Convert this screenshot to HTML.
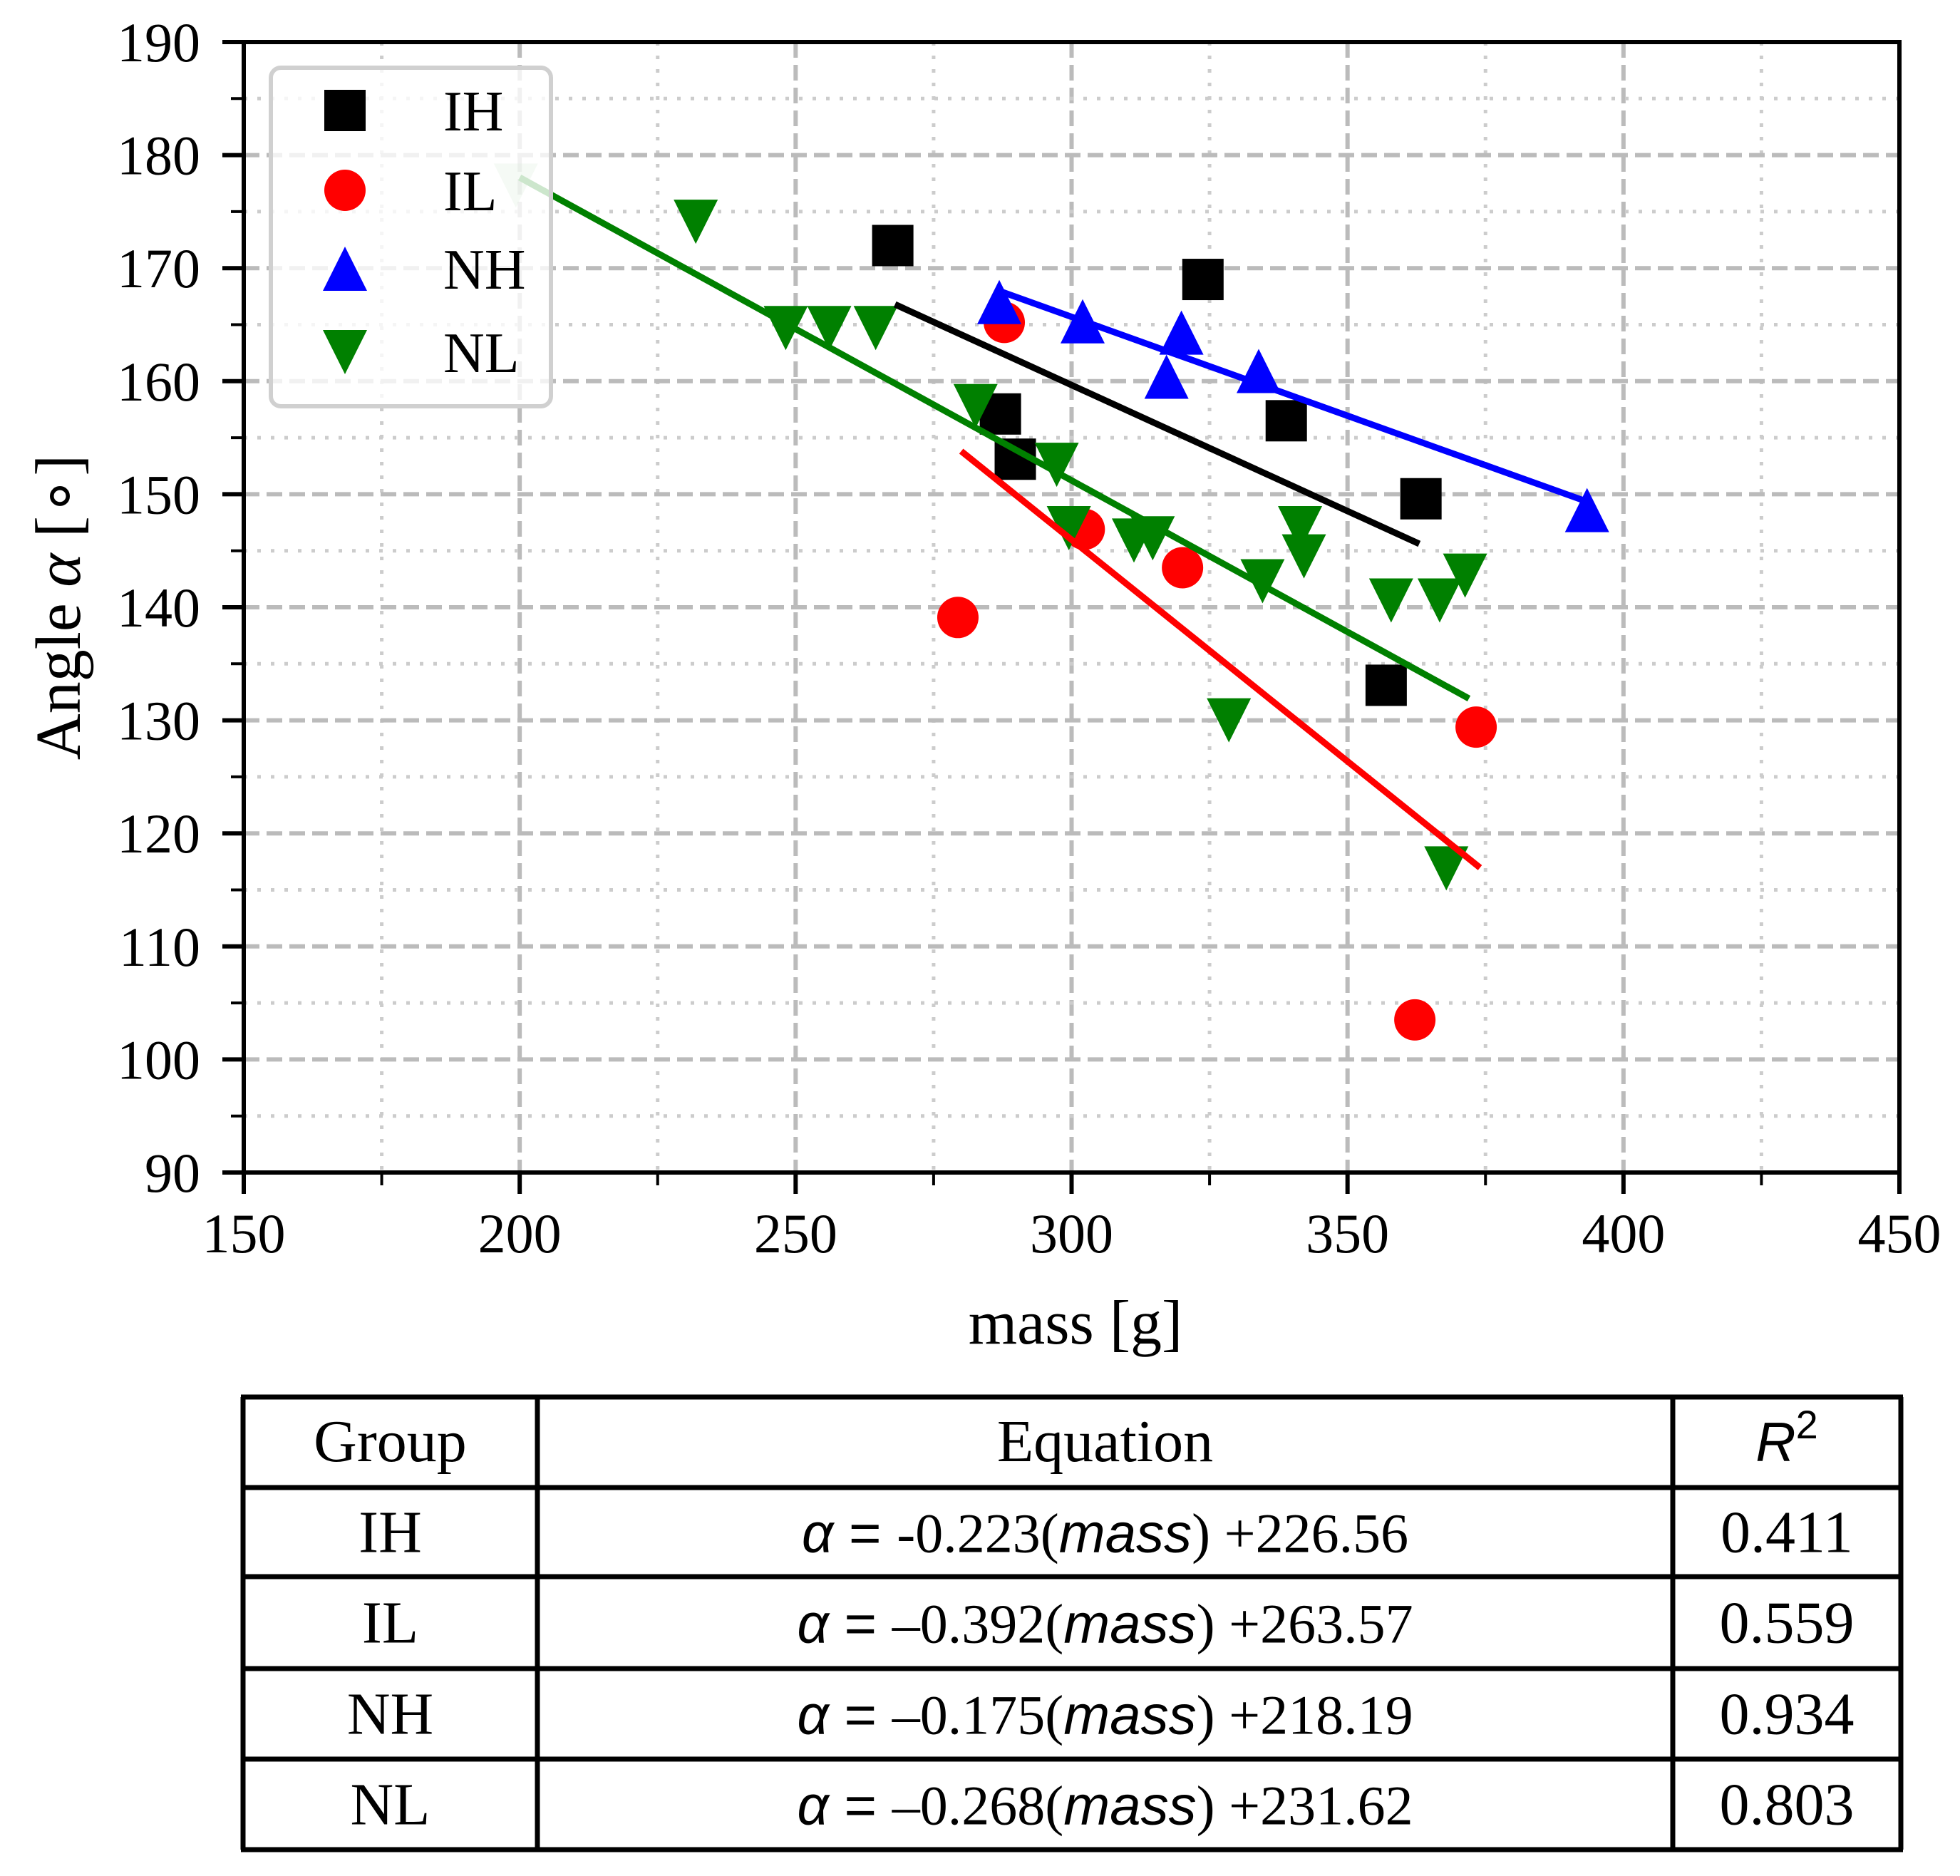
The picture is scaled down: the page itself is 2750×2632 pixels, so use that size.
<!DOCTYPE html>
<html><head><meta charset="utf-8"><style>
html,body{margin:0;padding:0;background:#fff}
svg{display:block}
</style></head><body>
<svg id="chart" xmlns="http://www.w3.org/2000/svg" width="2750" height="2632" viewBox="0 0 2750 2632" font-family="Liberation Serif, serif">
<rect x="0" y="0" width="2750" height="2632" fill="#fff"/>
<g id="grid"></g>
<g id="marks"></g>
<g id="fits"></g>
<g id="axes"></g>
<g id="legend"></g>
<text x="1509" y="1885" font-size="88" text-anchor="middle">mass [g]</text>
<text transform="translate(112,852) rotate(-90)" font-size="90" text-anchor="middle">Angle <tspan font-style="italic">α</tspan> [∘]</text>
<g id="table"></g>
</svg>
<script>
const xTicks=[150,200,250,300,350,400,450];
const yTicks=[90,100,110,120,130,140,150,160,170,180,190];
const ihMass=[267.6,323.8,287.1,289.8,338.9,363.3,357.0];
const ihAngle=[172.0,169.0,157.1,153.1,156.5,149.6,133.1];
const ilMass=[287.8,302.3,320.1,279.4,373.3,362.2];
const ilAngle=[165.2,146.9,143.5,139.1,129.4,103.5];
const nhMass=[286.9,302.0,319.9,317.2,333.9,393.4];
const nhAngle=[167.0,165.3,164.3,160.4,160.9,148.6];
const nlMass=[199.3,231.9,248.2,256.1,264.5,282.6,297.3,299.5,311.3,314.7,334.6,341.4,342.1,328.5,357.9,366.7,371.3,367.9];
const nlAngle=[177.3,174.1,164.7,164.7,164.7,157.8,152.6,147.0,145.9,146.1,142.3,147.0,144.5,130.0,140.6,140.6,142.8,116.9];
const groups=['IH','IL','NH','NL'];
const slopes=[-0.223,-0.392,-0.175,-0.268];
const intercepts=[226.56,263.57,218.19,231.62];
const fitStart=[268,280,287,200];
const fitEnd=[363,374,393,372];
const slopeLabels=['-0.223','–0.392','–0.175','–0.268'];
const interceptLabels=['+226.56','+263.57','+218.19','+231.62'];
const r2Labels=['0.411','0.559','0.934','0.803'];

const NS='http://www.w3.org/2000/svg';
const L=342,R=2665,T=59,B=1645;
const X=v=>L+(v-150)/300*(R-L);
const Y=v=>B-(v-90)/100*(B-T);
function mk(tag,attrs,parent){const e=document.createElementNS(NS,tag);for(const k in attrs)e.setAttribute(k,attrs[k]);parent.appendChild(e);return e;}
const grid=document.getElementById('grid'),marks=document.getElementById('marks'),fits=document.getElementById('fits'),axes=document.getElementById('axes'),legend=document.getElementById('legend'),table=document.getElementById('table');

for(let v=150;v<=450;v+=25){
  const major=(v%50===0);
  const l=mk('line',{x1:X(v),x2:X(v),y1:T,y2:B,stroke:major?'#bbbbbb':'#cccccc','stroke-width':major?6:5,'stroke-dasharray':major?'22,10':'5,14'},grid);
  
  
}
for(let v=90;v<=190;v+=5){
  const major=(v%10===0);
  const l=mk('line',{x1:L,x2:R,y1:Y(v),y2:Y(v),stroke:major?'#bbbbbb':'#cccccc','stroke-width':major?6:5,'stroke-dasharray':major?'22,10':'5,14'},grid);
  
  
}

const S=58;
function square(x,y,c,n){const e=mk('rect',{x:X(x)-S/2,y:Y(y)-S/2,width:S,height:S,fill:c},marks);}
function circle(x,y,c,n){const e=mk('ellipse',{cx:X(x),cy:Y(y),rx:29,ry:29,fill:c},marks);}
function tri(x,y,c,up,n,op){const cx=X(x),cy=Y(y),w=31,h=31;const p=up?`${cx},${cy-h} ${cx-w},${cy+h} ${cx+w},${cy+h}`:`${cx},${cy+h} ${cx-w},${cy-h} ${cx+w},${cy-h}`;const e=mk('polygon',{points:p,fill:c,opacity:op||1},marks);}
ihMass.forEach((m,i)=>square(m,ihAngle[i],'#000','ih-point'));
ilMass.forEach((m,i)=>circle(m,ilAngle[i],'#ff0000','il-point'));
nhMass.forEach((m,i)=>tri(m,nhAngle[i],'#0000ff',true,'nh-point'));
nlMass.forEach((m,i)=>tri(m,nlAngle[i],'#008000',false,'nl-point',i===0?0.2:1));

const colors=['#000','#ff0000','#0000ff','#008000'];
groups.forEach((g,i)=>{
  const a=fitStart[i],b=fitEnd[i];
  const l=mk('line',{x1:X(a),y1:Y(slopes[i]*a+intercepts[i]),x2:X(b),y2:Y(slopes[i]*b+intercepts[i]),stroke:colors[i],'stroke-width':9},fits);
  
  
});

const fr=mk('rect',{x:L,y:T,width:R-L,height:B-T,fill:'none',stroke:'#000','stroke-width':6},axes);


for(let v=150;v<=450;v+=25){
  const major=(v%50===0);
  const t=mk('line',{x1:X(v),x2:X(v),y1:B,y2:B+(major?30:18),stroke:'#000','stroke-width':major?6:4},axes);
  
  
}
xTicks.forEach(v=>{
  const t=mk('text',{x:X(v),y:1757,'font-size':78,'text-anchor':'middle'},axes);t.textContent=v;
  
  
});
for(let v=90;v<=190;v+=5){
  const major=(v%10===0);
  const t=mk('line',{x1:L-(major?30:18),x2:L,y1:Y(v),y2:Y(v),stroke:'#000','stroke-width':major?6:4},axes);
  
  
}
yTicks.forEach(v=>{
  const t=mk('text',{x:281,y:Y(v)+27,'font-size':78,'text-anchor':'end'},axes);t.textContent=v;
  
  
});

const lb=mk('rect',{x:380,y:95,width:393,height:475,rx:14,fill:'#fff','fill-opacity':0.8,stroke:'#d0d0d0','stroke-width':6},legend);


const ly=[155,267,377,494];
groups.forEach((g,i)=>{
  const gg=mk('g',{},legend);
  
  
  const cx=484,cy=ly[i];
  if(i===0)mk('rect',{x:cx-29,y:cy-29,width:58,height:58,fill:'#000'},gg);
  if(i===1)mk('ellipse',{cx:cx,cy:cy,rx:29,ry:29,fill:'#ff0000'},gg);
  if(i===2)mk('polygon',{points:`${cx},${cy-31} ${cx-31},${cy+31} ${cx+31},${cy+31}`,fill:'#0000ff'},gg);
  if(i===3)mk('polygon',{points:`${cx},${cy+31} ${cx-31},${cy-31} ${cx+31},${cy-31}`,fill:'#008000'},gg);
  const t=mk('text',{x:622,y:cy+28,'font-size':80},gg);t.textContent=g;
});

const tL=341,tR=2667,tT=1960,c1=754,c2=2347;
const rows=[1960,2087,2212,2341,2468,2595];
rows.forEach(y=>{const l=mk('line',{x1:tL-3,x2:tR+3,y1:y,y2:y,stroke:'#000','stroke-width':7},table);});
[tL,c1,c2,tR].forEach(x=>{const l=mk('line',{x1:x,x2:x,y1:tT,y2:2595,stroke:'#000','stroke-width':7},table);});
function cellText(x,y,txt,name){const t=mk('text',{x:x,y:y,'font-size':84,'text-anchor':'middle'},table);t.textContent=txt;return t;}
cellText((tL+c1)/2,2050,'Group','header-group');
cellText((c1+c2)/2,2050,'Equation','header-equation');
const rh=mk('text',{x:(c2+tR)/2,y:2050,'font-size':78,'text-anchor':'middle','font-family':'Liberation Sans, sans-serif','font-style':'italic'},table);


rh.innerHTML='R<tspan dy="-32" font-size="56" font-style="normal">2</tspan>';
groups.forEach((g,i)=>{
  const cy=(rows[i+1]+rows[i+2])/2+28;
  cellText((tL+c1)/2,cy,g,'group-cell');
  const e=mk('text',{x:(c1+c2)/2,y:cy,'font-size':78,'text-anchor':'middle'},table);
  
  
  e.innerHTML=`<tspan font-family="Liberation Sans, sans-serif" font-style="italic">α</tspan><tspan font-family="Liberation Sans, sans-serif"> = </tspan>${slopeLabels[i]}(<tspan font-family="Liberation Sans, sans-serif" font-style="italic">mass</tspan>) ${interceptLabels[i]}`;
  cellText((c2+tR)/2,cy,r2Labels[i],'r2-cell');
});
</script>
</body></html>
